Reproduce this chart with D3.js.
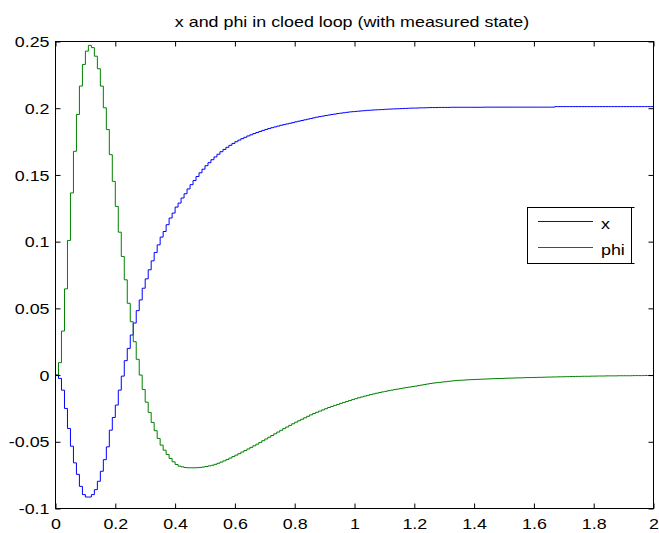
<!DOCTYPE html>
<html><head><meta charset="utf-8">
<script src="https://cdn.jsdelivr.net/npm/d3@7"></script>
<style>
body{margin:0;background:#fff}
text{font-family:"Liberation Sans",Arial,Helvetica,sans-serif;font-size:15px;fill:#000}
</style>
</head><body>
<svg id="c" width="659" height="533"></svg>
<script>
const titleText = "x and phi in cloed loop (with measured state)";
const seriesNames = ["x", "phi"];
const seriesColors = ["#0000ff", "#008000"];
const sampleTime = 0.01;
const xTicks = [0, 0.2, 0.4, 0.6, 0.8, 1, 1.2, 1.4, 1.6, 1.8, 2];
const xTickLabels = ["0", "0.2", "0.4", "0.6", "0.8", "1", "1.2", "1.4", "1.6", "1.8", "2"];
const yTicks = [-0.1, -0.05, 0, 0.05, 0.1, 0.15, 0.2, 0.25];
const yTickLabels = ["-0.1", "-0.05", "0", "0.05", "0.1", "0.15", "0.2", "0.25"];

const xValues = [
 0, -0.0025, -0.0113, -0.0250, -0.0400, -0.0533, -0.0658, -0.0744, -0.0834, -0.0896,
 -0.0914, -0.0914, -0.0896, -0.0859, -0.0796, -0.0721, -0.0634, -0.0538, -0.0413, -0.0318,
 -0.0225, -0.0113, -0.0008, 0.0108, 0.0200, 0.0300, 0.0390, 0.0483, 0.0563, 0.0651,
 0.0721, 0.0789, 0.0856, 0.0919, 0.0976, 0.1034, 0.1076, 0.1127, 0.1177, 0.1214,
 0.1259, 0.1289, 0.1327, 0.1359, 0.1395, 0.1427, 0.1458, 0.1488, 0.1516, 0.1543,
 0.1569, 0.1592, 0.1614, 0.1635, 0.1655, 0.1674, 0.1691, 0.1707, 0.1722, 0.1736,
 0.1749, 0.1761, 0.1772, 0.1782, 0.1792, 0.1801, 0.1810, 0.1818, 0.1826, 0.1834,
 0.1841, 0.1848, 0.1854, 0.1860, 0.1866, 0.1872, 0.1877, 0.1882, 0.1887, 0.1892,
 0.1898, 0.1903, 0.1908, 0.1913, 0.1918, 0.1923, 0.1928, 0.1933, 0.1937, 0.1941,
 0.1945, 0.1949, 0.1953, 0.1956, 0.1960, 0.1963, 0.1966, 0.1969, 0.1972, 0.1974,
 0.1976, 0.1978, 0.1980, 0.1982, 0.1984, 0.1985, 0.1987, 0.1988, 0.1989, 0.1990,
 0.1992, 0.1993, 0.1994, 0.1995, 0.1996, 0.1997, 0.1998, 0.1999, 0.2000, 0.2001,
 0.2001, 0.2002, 0.2003, 0.2003, 0.2004, 0.2005, 0.2005, 0.2005, 0.2006, 0.2006,
 0.2006, 0.2006, 0.2007, 0.2007, 0.2007, 0.2007, 0.2007, 0.2007, 0.2007, 0.2007,
 0.2007, 0.2007, 0.2007, 0.2008, 0.2008, 0.2008, 0.2008, 0.2008, 0.2008, 0.2008,
 0.2008, 0.2008, 0.2008, 0.2008, 0.2008, 0.2008, 0.2008, 0.2008, 0.2008, 0.2008,
 0.2008, 0.2008, 0.2008, 0.2008, 0.2008, 0.2008, 0.2008, 0.2012, 0.2012, 0.2012,
 0.2012, 0.2012, 0.2012, 0.2012, 0.2012, 0.2012, 0.2012, 0.2012, 0.2012, 0.2012,
 0.2012, 0.2012, 0.2012, 0.2012, 0.2012, 0.2012, 0.2012, 0.2012, 0.2012, 0.2012,
 0.2012, 0.2012, 0.2012, 0.2012, 0.2012, 0.2012, 0.2012, 0.2012, 0.2012, 0.2012,
 0.2012
];

const phiValues = [
 0, 0.0093, 0.0330, 0.0646, 0.1009, 0.1365, 0.1677, 0.1953, 0.2166, 0.2328,
 0.2428, 0.2471, 0.2454, 0.2390, 0.2296, 0.2166, 0.2003, 0.1840, 0.1652, 0.1452,
 0.1264, 0.1071, 0.0889, 0.0714, 0.0538, 0.0400, 0.0250, 0.0118, 0.0000, -0.0108,
 -0.0203, -0.0280, -0.0355, -0.0417, -0.0475, -0.0525, -0.0563, -0.0595, -0.0625, -0.0650,
 -0.0670, -0.0683, -0.0688, -0.0693, -0.0695, -0.0695, -0.0695, -0.0694, -0.0692, -0.0689,
 -0.0685, -0.0681, -0.0676, -0.0669, -0.0661, -0.0652, -0.0643, -0.0633, -0.0622, -0.0611,
 -0.0600, -0.0589, -0.0577, -0.0566, -0.0554, -0.0542, -0.0530, -0.0518, -0.0505, -0.0492,
 -0.0479, -0.0466, -0.0453, -0.0440, -0.0427, -0.0414, -0.0401, -0.0389, -0.0377, -0.0365,
 -0.0353, -0.0342, -0.0331, -0.0320, -0.0309, -0.0298, -0.0288, -0.0279, -0.0270, -0.0261,
 -0.0252, -0.0243, -0.0235, -0.0227, -0.0220, -0.0212, -0.0205, -0.0198, -0.0191, -0.0184,
 -0.0177, -0.0170, -0.0164, -0.0158, -0.0152, -0.0146, -0.0141, -0.0136, -0.0131, -0.0126,
 -0.0122, -0.0117, -0.0113, -0.0109, -0.0105, -0.0101, -0.0097, -0.0093, -0.0090, -0.0086,
 -0.0083, -0.0079, -0.0075, -0.0071, -0.0067, -0.0063, -0.0060, -0.0057, -0.0055, -0.0052,
 -0.0050, -0.0047, -0.0045, -0.0042, -0.0040, -0.0039, -0.0038, -0.0036, -0.0035, -0.0034,
 -0.0033, -0.0032, -0.0031, -0.0030, -0.0029, -0.0028, -0.0027, -0.0026, -0.0026, -0.0025,
 -0.0024, -0.0023, -0.0023, -0.0022, -0.0021, -0.0021, -0.0020, -0.0019, -0.0019, -0.0018,
 -0.0018, -0.0017, -0.0017, -0.0016, -0.0015, -0.0015, -0.0014, -0.0014, -0.0013, -0.0013,
 -0.0012, -0.0012, -0.0011, -0.0011, -0.0010, -0.0010, -0.0009, -0.0009, -0.0009, -0.0008,
 -0.0008, -0.0007, -0.0007, -0.0007, -0.0006, -0.0006, -0.0006, -0.0006, -0.0005, -0.0005,
 -0.0005, -0.0005, -0.0005, -0.0004, -0.0004, -0.0004, -0.0004, -0.0003, -0.0003, -0.0003,
 -0.0003
];

const svg = d3.select("#c");
const plotLeft = 55.5, plotRight = 653.5, plotTop = 41.5, plotBottom = 508.5;
const x = d3.scaleLinear().domain([0, 2]).range([plotLeft, plotRight]);
const y = d3.scaleLinear().domain([-0.1, 0.25]).range([plotBottom, plotTop]);
const stretch = 1.19;
function widen(sel) {
  sel.each(function () {
    const w = this.getComputedTextLength();
    this.setAttribute("textLength", (w * stretch).toFixed(2));
    this.setAttribute("lengthAdjust", "spacingAndGlyphs");
  });
}

svg.append("rect").attr("x", 0).attr("y", 0).attr("width", 659).attr("height", 533).attr("fill", "#fff");

// series
const line = d3.line()
  .x((d, i) => x(i * sampleTime))
  .y(d => y(d))
  .curve(d3.curveStepAfter);
[xValues, phiValues].forEach((vals, s) => {
  svg.append("path").datum(vals)
    .attr("fill", "none")
    .attr("stroke", seriesColors[s])
    .attr("stroke-width", 1)
    .attr("d", line);
});

// axes
const fmtX = (d, i) => xTickLabels[i];
const fmtY = (d, i) => yTickLabels[i];
const gB = svg.append("g").attr("transform", `translate(0,${plotBottom})`)
  .call(d3.axisBottom(x).tickValues(xTicks).tickFormat(fmtX).tickSizeInner(-5).tickSizeOuter(0).tickPadding(10));
const gT = svg.append("g").attr("transform", `translate(0,${plotTop})`)
  .call(d3.axisTop(x).tickValues(xTicks).tickFormat("").tickSizeInner(-5).tickSizeOuter(0));
const gL = svg.append("g").attr("transform", `translate(${plotLeft},0)`)
  .call(d3.axisLeft(y).tickValues(yTicks).tickFormat(fmtY).tickSizeInner(-5).tickSizeOuter(0).tickPadding(6));
const gR = svg.append("g").attr("transform", `translate(${plotRight},0)`)
  .call(d3.axisRight(y).tickValues(yTicks).tickFormat("").tickSizeInner(-5).tickSizeOuter(0));
[gB, gT, gL, gR].forEach(g => {
  g.select(".domain").remove();
  g.selectAll("line").attr("stroke", "#000");
  g.selectAll("text").attr("font-size", null).attr("font-family", null).attr("fill", "#000");
});
gB.selectAll("text").attr("dy", "0.71em");
gL.selectAll("text").attr("dy", "0.34em");
widen(gB.selectAll("text"));
widen(gL.selectAll("text"));

svg.append("rect")
  .attr("x", plotLeft).attr("y", plotTop)
  .attr("width", plotRight - plotLeft).attr("height", plotBottom - plotTop)
  .attr("fill", "none").attr("stroke", "#000").attr("stroke-width", 1);

// title
const t = svg.append("text").attr("x", 352).attr("y", 27).attr("text-anchor", "middle").text(titleText);
widen(t);

// legend
const lg = svg.append("g");
lg.append("rect").attr("x", 527.5).attr("y", 207.5).attr("width", 104).attr("height", 56)
  .attr("fill", "#fff").attr("stroke", "#000");
lg.append("path").attr("d", "M631.5,207.5H634.5M631.5,263.5H634.5").attr("stroke", "#000").attr("fill", "none");
const legendY = [221.5, 247.5];
seriesNames.forEach((n, i) => {
  lg.append("line").attr("x1", 538).attr("x2", 593).attr("y1", legendY[i]).attr("y2", legendY[i])
    .attr("stroke", seriesColors[i]).attr("stroke-width", 1);
  const tx = lg.append("text").attr("x", 601).attr("y", legendY[i] + 7).text(n);
  widen(tx);
});
</script>
</body></html>
